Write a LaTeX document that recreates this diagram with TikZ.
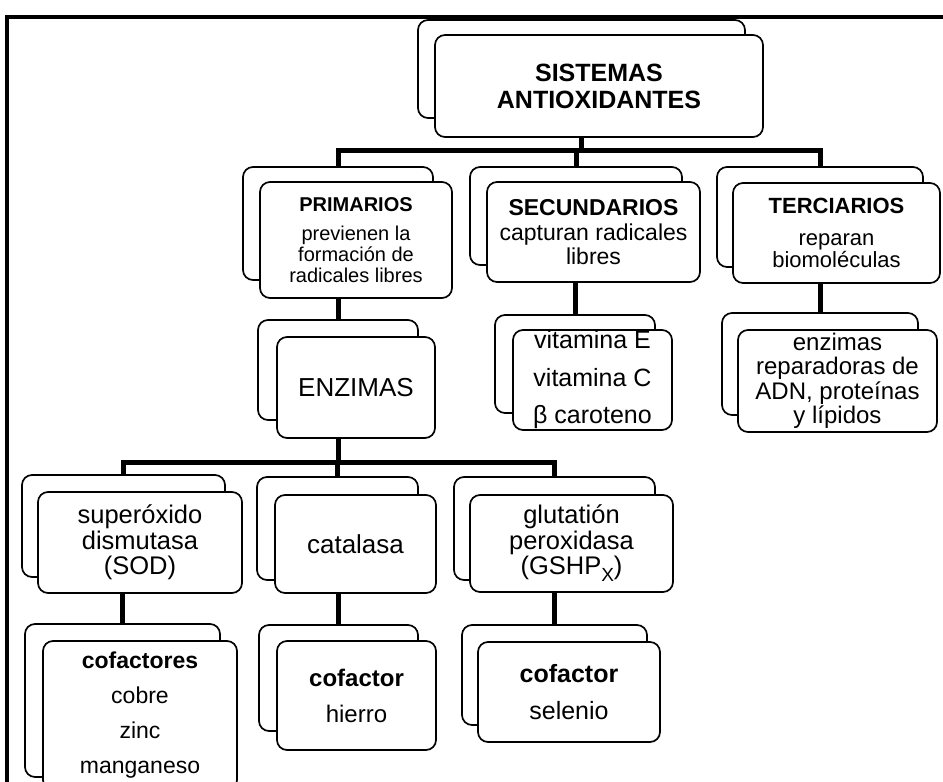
\documentclass[tikz,border=0pt]{standalone}
\usepackage{fontspec}
\setmainfont{Liberation Sans}
\newcommand{\myfs}[2]{\fontsize{#1}{#2}\selectfont}
\newcommand{\mysubx}{\raisebox{-0.28em}{\fontsize{19}{19}\selectfont X}}
\begin{document}
\begin{tikzpicture}[x=1pt,y=-1pt,
  bx/.style={draw, line width=1.7pt, rounded corners=10pt, fill=white, align=center, inner sep=0pt},
  conn/.style={line width=5pt},
  frameline/.style={line width=4pt}]
\useasboundingbox (0,0) rectangle (943,782);
\fill[white] (0,0) rectangle (943,782);
% frame
\draw[frameline] (7,800) -- (7,17) -- (960,17);
\coordinate (bar1) at (0,150);
\coordinate (bar2) at (0,462);
% back boxes
\node[bx, minimum width=327pt, minimum height=98pt] (sisB) at (581.5,69) {};
\node[bx, minimum width=190pt, minimum height=113pt] (priB) at (338,223.5) {};
\node[bx, minimum width=212pt, minimum height=98pt] (secB) at (576,216) {};
\node[bx, minimum width=206pt, minimum height=100pt] (terB) at (820,217) {};
\node[bx, minimum width=160pt, minimum height=100pt] (enzB) at (338,370) {};
\node[bx, minimum width=160pt, minimum height=98pt] (vitB) at (575,364) {};
\node[bx, minimum width=196pt, minimum height=102pt] (repB) at (820,364) {};
\node[bx, minimum width=203pt, minimum height=102pt] (sodB) at (123.5,526) {};
\node[bx, minimum width=161pt, minimum height=103pt] (catB) at (337.5,528.5) {};
\node[bx, minimum width=201pt, minimum height=103pt] (gluB) at (554.5,528.5) {};
\node[bx, minimum width=195pt, minimum height=153pt] (cofB) at (122.5,700.5) {};
\node[bx, minimum width=159pt, minimum height=106pt] (hieB) at (338.5,678) {};
\node[bx, minimum width=185pt, minimum height=100pt] (selB) at (554.5,675) {};
% front boxes
\node[bx, minimum width=328pt, minimum height=102pt, font=\myfs{25}{27}\bfseries] (sis) at (599,86) {SISTEMAS\\ANTIOXIDANTES};
\node[bx, minimum width=192pt, minimum height=116pt, font=\myfs{20}{21}] (pri) at (356,240) {\textbf{PRIMARIOS}\\[8pt]previenen la\\formación de\\radicales libres};
\node[bx, minimum width=213pt, minimum height=100pt, font=\myfs{23}{23.5}] (sec) at (593.5,232) {\textbf{SECUNDARIOS}\\[2pt]capturan radicales\\libres};
\node[bx, minimum width=207pt, minimum height=100pt, font=\myfs{22}{22}] (ter) at (836.5,233) {\textbf{TERCIARIOS}\\[10pt]reparan\\biomoléculas};
\node[bx, minimum width=158pt, minimum height=101pt, font=\myfs{26}{27}] (enz) at (356,387.5) {ENZIMAS};
\node[bx, minimum width=159pt, minimum height=100pt, font=\myfs{25}{37.5}] (vit) at (592.5,380) {vitamina E\\vitamina C\\β caroteno};
\node[bx, minimum width=199pt, minimum height=102pt, font=\myfs{24}{24.5}] (rep) at (837.5,381) {enzimas\\reparadoras de\\ADN, proteínas\\y lípidos};
\node[bx, minimum width=204pt, minimum height=101pt, font=\myfs{25.5}{25.5}] (sod) at (140,542.5) {superóxido\\dismutasa\\(SOD)};
\node[bx, minimum width=161pt, minimum height=98pt, font=\myfs{26}{26}] (cat) at (355.5,544) {catalasa};
\node[bx, minimum width=203pt, minimum height=97pt, font=\myfs{25.5}{25.5}] (glu) at (571.5,543.5) {glutatión\\peroxidasa\\(GSHP\mysubx)};
\node[bx, minimum width=194pt, minimum height=149pt, font=\myfs{23}{35}] (cof) at (140,715.5) {\textbf{cofactores}\\cobre\\zinc\\manganeso};
\node[bx, minimum width=159pt, minimum height=109pt, font=\myfs{24}{36}] (hie) at (356.5,695.5) {\textbf{cofactor}\\hierro};
\node[bx, minimum width=182pt, minimum height=100pt, font=\myfs{25}{37}] (sel) at (569,692) {\textbf{cofactor}\\selenio};
% connectors
\draw[conn] (sisB.north |- sis.south) -- (sisB.north |- bar1);
\draw[conn] (priB.north) -- (priB.north |- bar1) -- (terB.north |- bar1) -- (terB.north);
\draw[conn] (secB.north |- bar1) -- (secB.north);
\draw[conn] (enzB.north |- pri.south) -- (enzB.north);
\draw[conn] (vitB.north |- sec.south) -- (vitB.north);
\draw[conn] (repB.north |- ter.south) -- (repB.north);
\draw[conn] (enzB.north |- enz.south) -- (enzB.north |- bar2);
\draw[conn] (sodB.north) -- (sodB.north |- bar2) -- (gluB.north |- bar2) -- (gluB.north);
\draw[conn] (catB.north |- bar2) -- (catB.north);
\draw[conn] (cofB.north |- sod.south) -- (cofB.north);
\draw[conn] (hieB.north |- cat.south) -- (hieB.north);
\draw[conn] (selB.north |- glu.south) -- (selB.north);
\end{tikzpicture}
\end{document}
